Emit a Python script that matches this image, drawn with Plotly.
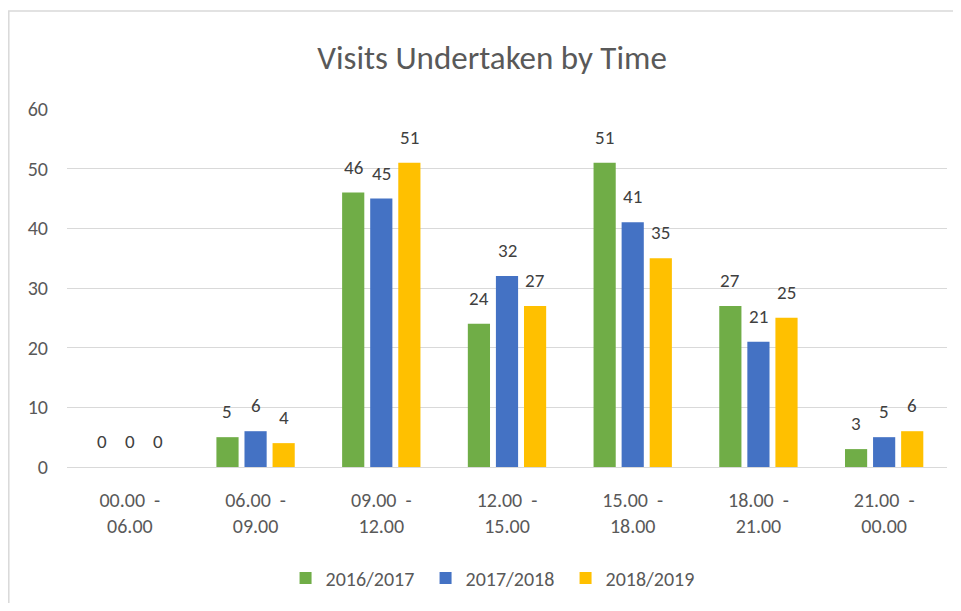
import plotly.graph_objects as go

categories = ["00.00  -<br>06.00", "06.00  -<br>09.00", "09.00  -<br>12.00", "12.00  -<br>15.00",
              "15.00  -<br>18.00", "18.00  -<br>21.00", "21.00  -<br>00.00"]
series_names = ["2016/2017", "2017/2018", "2018/2019"]
v_2016 = [0, 5, 46, 24, 51, 27, 3]
v_2017 = [0, 6, 45, 32, 41, 21, 5]
v_2018 = [0, 4, 51, 27, 35, 25, 6]
colors = ["#70AD47", "#4472C4", "#FFC000"]

FONT = "Carlito, Lato, sans-serif"

# page has an 8px body margin; figure coordinates are shifted accordingly
W, H = 953, 595
L, R, T, B = 59, 14, 101, 136
PLOT_W = W - L - R
SLOT = PLOT_W / len(categories) * (1 - 0.33) / 3

fig = go.Figure()
all_vals = [v_2016, v_2017, v_2018]
for name, vals, col in zip(series_names, all_vals, colors):
    fig.add_trace(go.Bar(
        x=categories, y=vals, name=name,
        marker=dict(color=col, line=dict(width=0)),
    ))

for i, vals in enumerate(all_vals):
    for cat, v in zip(categories, vals):
        fig.add_annotation(x=cat, y=v, text=str(v), showarrow=False,
                           xshift=(i - 1) * SLOT, yshift=12, yanchor="bottom",
                           font=dict(size=19, color="#404040", family=FONT))

fig.update_layout(
    width=W, height=H,
    paper_bgcolor="white", plot_bgcolor="white",
    margin=dict(l=L, r=R, t=T, b=B, autoexpand=False),
    barmode="group", bargap=0.33, bargroupgap=0.21,
    title=dict(text="Visits Undertaken by Time", x=484 / W, xanchor="center",
               y=1 - 49 / H, yanchor="middle", yref="container",
               font=dict(size=33, color="#595959", family=FONT)),
    font=dict(family=FONT, color="#595959", size=19),
    showlegend=True,
    legend=dict(orientation="h", x=0.487, xanchor="center", y=-0.31, yanchor="middle",
                font=dict(size=20, color="#595959", family=FONT),
                itemwidth=30, traceorder="normal", entrywidth=95, entrywidthmode="pixels"),
)
fig.update_yaxes(range=[0, 60], dtick=10, showgrid=True, gridcolor="#D9D9D9", gridwidth=1.3,
                 zeroline=False, showline=False, ticks="", ticklabelstandoff=18,
                 tickfont=dict(size=20, color="#595959", family=FONT), fixedrange=True)
fig.update_xaxes(showline=True, linecolor="#D9D9D9", linewidth=1.3, ticks="",
                 tickfont=dict(size=20, color="#595959", family=FONT), ticklabelstandoff=15)
fig.add_shape(type="rect", xref="paper", yref="paper",
              x0=(0.8 - L) / PLOT_W, x1=1.2, y0=-0.6, y1=(459 - 3) / 358,
              line=dict(color="#D9D9D9", width=1.5), fillcolor="rgba(0,0,0,0)", layer="below")

fig.write_html("out.html")
